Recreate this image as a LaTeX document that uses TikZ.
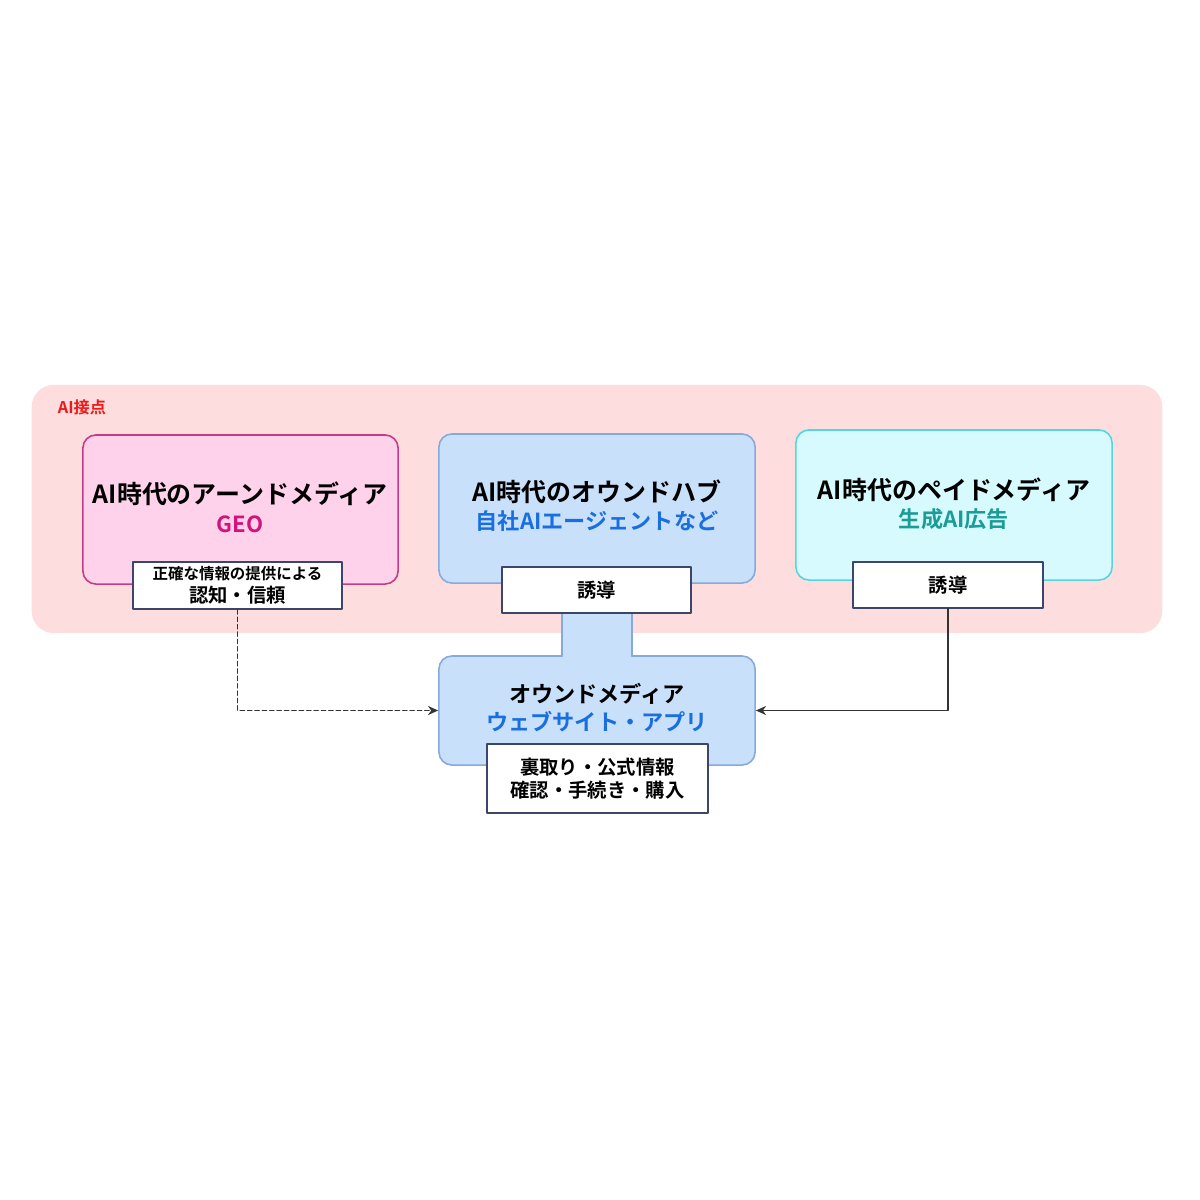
\documentclass[tikz,border=0pt]{standalone}
\usepackage{fontspec}
\setmainfont{Noto Sans CJK JP}[BoldFont={* Bold}]
\usetikzlibrary{arrows,arrows.meta}
\definecolor{zonefill}{HTML}{FDDDDE}
\definecolor{zonered}{HTML}{F01818}
\definecolor{earnfill}{HTML}{FFD2EC}
\definecolor{earnline}{HTML}{C73A86}
\definecolor{earntext}{HTML}{D4137A}
\definecolor{hubfill}{HTML}{C9E0FA}
\definecolor{hubline}{HTML}{86AADA}
\definecolor{hubtext}{HTML}{1A6FE0}
\definecolor{paidfill}{HTML}{D6FAFD}
\definecolor{paidline}{HTML}{55D6DF}
\definecolor{paidtext}{HTML}{1C9C98}
\definecolor{tagline}{HTML}{3B4668}
\tikzset{
  mediabox/.style={rounded corners=0.13cm,line width=0.45pt,inner sep=0pt},
  tagbox/.style={draw=tagline,fill=white,line width=0.45pt,inner sep=0pt,align=center},
  titletext/.style={font=\fontsize{7.1}{8}\selectfont\bfseries,inner sep=0pt},
  subtext/.style={font=\fontsize{6.3}{7}\selectfont\bfseries,inner sep=0pt},
  tagtext/.style={font=\fontsize{5.5}{6.6}\selectfont\bfseries},
  smalltext/.style={font=\fontsize{4.4}{5}\selectfont\bfseries}
}
\begin{document}
\begin{tikzpicture}[line cap=round,line join=round,>={Stealth[length=2.9pt,width=2.6pt]},x=0.01cm,y=-0.01cm]
\useasboundingbox (0,0) rectangle (1200,1200);
% AI touchpoint zone
\node[fill=zonefill,rounded corners=0.22cm,minimum width=11.3cm,minimum height=2.48cm,inner sep=0pt] (zone) at (597,509) {};
\node[text=zonered,font=\fontsize{4.6}{5}\selectfont\bfseries,inner sep=0pt] (zonelbl) at (82,407) {AI接点};
% the three media boxes
\node[mediabox,draw=earnline,fill=earnfill,minimum width=3.15cm,minimum height=1.49cm] (earned) at (240.5,509.5) {};
\node[mediabox,draw=hubline,fill=hubfill,minimum width=3.16cm,minimum height=1.49cm] (hub) at (597,508.5) {};
\node[mediabox,draw=paidline,fill=paidfill,minimum width=3.16cm,minimum height=1.5cm] (paid) at (954,505) {};
\node[titletext] (earnedttl) at (240,494) {AI時代のアーンドメディア};
\node[subtext,text=earntext] (earnedsub) at (240,524) {GEO};
\node[titletext] (hubttl) at (597,492) {AI時代のオウンドハブ};
\node[subtext,text=hubtext] (hubsub) at (597,521) {自社AIエージェントなど};
\node[titletext] (paidttl) at (954,490) {AI時代のペイドメディア};
\node[subtext,text=paidtext] (paidsub) at (954,519) {生成AI広告};
% owned media
\node[mediabox,draw=hubline,fill=hubfill,minimum width=3.16cm,minimum height=1.09cm] (owned) at (597,710.5) {};
\fill[hubfill] (562,611) rectangle (632,657.5);
\draw[hubline,line width=0.45pt] (562,611) -- (562,656.3) (632,611) -- (632,656.3);
\node[subtext] (ownedttl) at (597,694) {オウンドメディア};
\node[subtext,text=hubtext] (ownedsub) at (597,722) {ウェブサイト・アプリ};
% tags
\node[tagbox,minimum width=2.09cm,minimum height=0.47cm] (earnedtag) at (237.5,585.5) {};
\node[smalltext,inner sep=0pt] (earnedtag1) at (237.5,574) {正確な情報の提供による};
\node[tagtext,inner sep=0pt] (earnedtag2) at (237.5,595) {認知・信頼};
\node[tagbox,tagtext,minimum width=1.89cm,minimum height=0.46cm] (hubtag) at (596.5,590) {誘導};
\node[tagbox,tagtext,minimum width=1.9cm,minimum height=0.46cm] (paidtag) at (948,585) {誘導};
\node[tagbox,tagtext,minimum width=2.21cm,minimum height=0.69cm] (ownedtag) at (597.5,778.5) {裏取り・公式情報\\確認・手続き・購入};
% links
\draw[->,dash pattern=on 1.2pt off 0.9pt,line width=0.45pt,color=black!80] (earnedtag.south) |- (owned.west);
\draw[->,line width=0.45pt,color=black!80] (paidtag.south) |- (owned.east);
\end{tikzpicture}
\end{document}
